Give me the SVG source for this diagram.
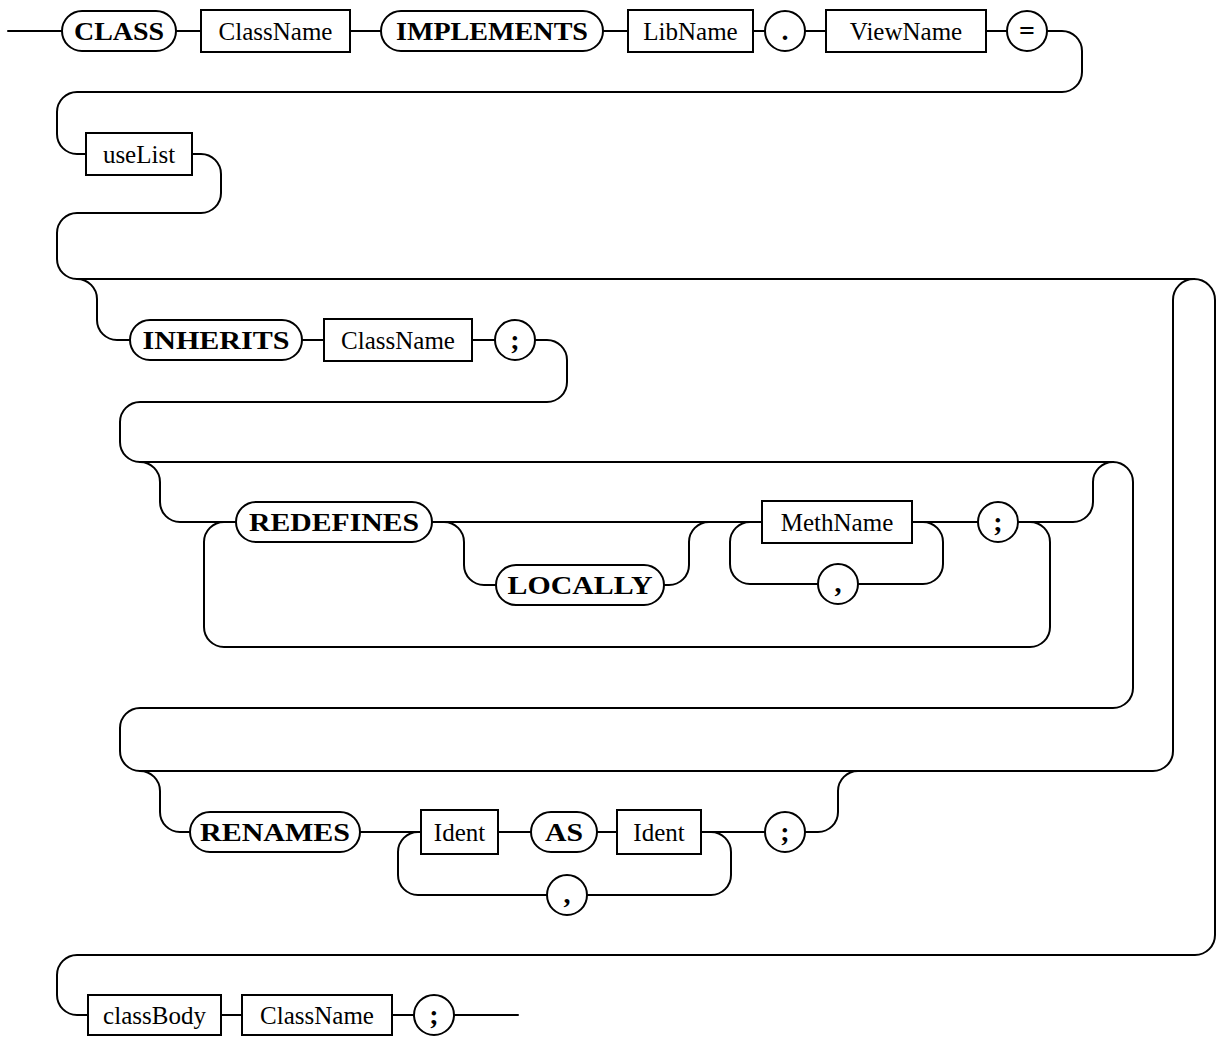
<svg xmlns="http://www.w3.org/2000/svg" width="1222" height="1038" viewBox="0 0 1222 1038">
<style>
.ln{fill:none;stroke:#000;stroke-width:2;stroke-linecap:round;stroke-linejoin:round}
.nd{fill:#fff;stroke:#000;stroke-width:2}
.t{font-family:"Liberation Serif","DejaVu Serif",serif;font-size:25px;text-anchor:middle;fill:#000}
.k{font-family:"Liberation Serif","DejaVu Serif",serif;font-size:25px;font-weight:bold;text-anchor:middle;fill:#000}
.p{font-family:"Liberation Serif","DejaVu Serif",serif;font-size:28px;font-weight:bold;text-anchor:middle;fill:#000}
</style>
<rect width="1222" height="1038" fill="#fff"/>
<g id="connectors" class="ln">
<path d="M8,31 H62"/>
<path d="M176,31 H201"/>
<path d="M350,31 H381"/>
<path d="M603,31 H628"/>
<path d="M753,31 H765"/>
<path d="M805,31 H826"/>
<path d="M986,31 H1007"/>
<path d="M1047,31 H1062 A20,20 0 0 1 1082,51 V72 A20,20 0 0 1 1062,92 H77 A20,20 0 0 0 57,112 V134 A20,20 0 0 0 77,154 H86"/>
<path d="M192,154 H201 A20,20 0 0 1 221,174 V193 A20,20 0 0 1 201,213 H77 A20,20 0 0 0 57,233 V259 A20,20 0 0 0 77,279 H1194"/>
<path d="M1194,279 A21,21 0 0 1 1215,300 V935 A20,20 0 0 1 1195,955 H77 A20,20 0 0 0 57,975 V995 A20,20 0 0 0 77,1015 H88"/>
<path d="M77,279 A20,20 0 0 1 97,299 V320 A20,20 0 0 0 117,340 H130"/>
<path d="M302,340 H324"/>
<path d="M472,340 H495"/>
<path d="M535,340 H547 A20,20 0 0 1 567,360 V382 A20,20 0 0 1 547,402 H140 A20,20 0 0 0 120,422 V442 A20,20 0 0 0 140,462 H1113 A20,20 0 0 1 1133,482 V688 A20,20 0 0 1 1113,708 H140 A20,20 0 0 0 120,728 V751 A20,20 0 0 0 140,771 H1153 A20,20 0 0 0 1173,751 V300 A21,21 0 0 1 1194,279"/>
<path d="M140,462 A20,20 0 0 1 160,482 V502 A20,20 0 0 0 180,522 H236"/>
<path d="M1018,522 H1030 A20,20 0 0 1 1050,542 V627 A20,20 0 0 1 1030,647 H224 A20,20 0 0 1 204,627 V542 A20,20 0 0 1 224,522"/>
<path d="M432,522 H762"/>
<path d="M444,522 A20,20 0 0 1 464,542 V565 A20,20 0 0 0 484,585 H496"/>
<path d="M664,585 H669 A20,20 0 0 0 689,565 V542 A20,20 0 0 1 709,522"/>
<path d="M912,522 H978"/>
<path d="M912,522 H923 A20,20 0 0 1 943,542 V564 A20,20 0 0 1 923,584 H858"/>
<path d="M818,584 H750 A20,20 0 0 1 730,564 V542 A20,20 0 0 1 750,522"/>
<path d="M1018,522 H1073 A20,20 0 0 0 1093,502 V482 A20,20 0 0 1 1113,462"/>
<path d="M140,771 A20,20 0 0 1 160,791 V812 A20,20 0 0 0 180,832 H190"/>
<path d="M360,832 H421"/>
<path d="M498,832 H531"/>
<path d="M597,832 H617"/>
<path d="M701,832 H765"/>
<path d="M701,832 H711 A20,20 0 0 1 731,852 V875 A20,20 0 0 1 711,895 H587"/>
<path d="M547,895 H418 A20,20 0 0 1 398,875 V852 A20,20 0 0 1 418,832"/>
<path d="M805,832 H818 A20,20 0 0 0 838,812 V791 A20,20 0 0 1 858,771"/>
<path d="M221,1015 H242"/>
<path d="M392,1015 H414"/>
<path d="M454,1015 H518"/>
</g>
<g id="n-class"><rect class="nd" x="62" y="11" width="114" height="40" rx="20"/><text class="k" x="119" y="40" textLength="90" lengthAdjust="spacingAndGlyphs">CLASS</text></g>
<g id="n-classname1"><rect class="nd" x="201" y="10" width="149" height="42"/><text class="t" x="275.5" y="40">ClassName</text></g>
<g id="n-implements"><rect class="nd" x="381" y="11" width="222" height="40" rx="20"/><text class="k" x="492" y="40" textLength="192" lengthAdjust="spacingAndGlyphs">IMPLEMENTS</text></g>
<g id="n-libname"><rect class="nd" x="628" y="10" width="125" height="42"/><text class="t" x="690.5" y="40">LibName</text></g>
<g id="n-dot"><circle class="nd" cx="785" cy="31" r="20"/><text class="p" x="785" y="40">.</text></g>
<g id="n-viewname"><rect class="nd" x="826" y="10" width="160" height="42"/><text class="t" x="906" y="40">ViewName</text></g>
<g id="n-eq"><circle class="nd" cx="1027" cy="31" r="20"/><text class="p" x="1027" y="40">=</text></g>
<g id="n-uselist"><rect class="nd" x="86" y="133" width="106" height="42"/><text class="t" x="139" y="163">useList</text></g>
<g id="n-inherits"><rect class="nd" x="130" y="320" width="172" height="40" rx="20"/><text class="k" x="216" y="349" textLength="147" lengthAdjust="spacingAndGlyphs">INHERITS</text></g>
<g id="n-classname2"><rect class="nd" x="324" y="319" width="148" height="42"/><text class="t" x="398" y="349">ClassName</text></g>
<g id="n-semi1"><circle class="nd" cx="515" cy="340" r="20"/><text class="p" x="515" y="349">;</text></g>
<g id="n-redefines"><rect class="nd" x="236" y="502" width="196" height="40" rx="20"/><text class="k" x="334" y="531" textLength="170" lengthAdjust="spacingAndGlyphs">REDEFINES</text></g>
<g id="n-locally"><rect class="nd" x="496" y="565" width="168" height="40" rx="20"/><text class="k" x="580" y="594" textLength="145" lengthAdjust="spacingAndGlyphs">LOCALLY</text></g>
<g id="n-methname"><rect class="nd" x="762" y="501" width="150" height="42"/><text class="t" x="837" y="531">MethName</text></g>
<g id="n-comma1"><circle class="nd" cx="838" cy="584" r="20"/><text class="p" x="838" y="592">,</text></g>
<g id="n-semi2"><circle class="nd" cx="998" cy="522" r="20"/><text class="p" x="998" y="531">;</text></g>
<g id="n-renames"><rect class="nd" x="190" y="812" width="170" height="40" rx="20"/><text class="k" x="275" y="841" textLength="150" lengthAdjust="spacingAndGlyphs">RENAMES</text></g>
<g id="n-ident1"><rect class="nd" x="421" y="810" width="77" height="44"/><text class="t" x="459.5" y="841">Ident</text></g>
<g id="n-as"><rect class="nd" x="531" y="812" width="66" height="40" rx="20"/><text class="k" x="564" y="841" textLength="38" lengthAdjust="spacingAndGlyphs">AS</text></g>
<g id="n-ident2"><rect class="nd" x="617" y="810" width="84" height="44"/><text class="t" x="659" y="841">Ident</text></g>
<g id="n-comma2"><circle class="nd" cx="567" cy="895" r="20"/><text class="p" x="567" y="903">,</text></g>
<g id="n-semi3"><circle class="nd" cx="785" cy="832" r="20"/><text class="p" x="785" y="841">;</text></g>
<g id="n-classbody"><rect class="nd" x="88" y="995" width="133" height="40"/><text class="t" x="154.5" y="1024">classBody</text></g>
<g id="n-classname3"><rect class="nd" x="242" y="995" width="150" height="40"/><text class="t" x="317" y="1024">ClassName</text></g>
<g id="n-semi4"><circle class="nd" cx="434" cy="1015" r="20"/><text class="p" x="434" y="1024">;</text></g>
</svg>
